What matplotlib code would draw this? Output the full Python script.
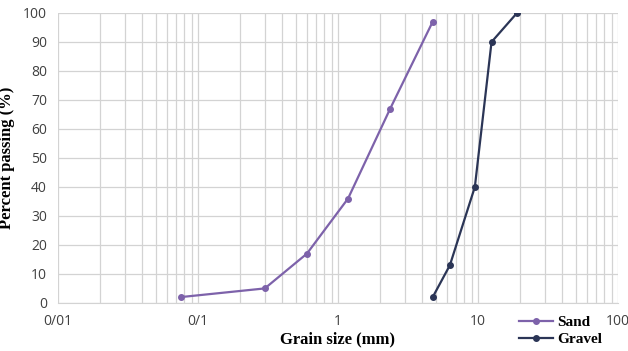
import matplotlib
matplotlib.use("Agg")
import matplotlib.pyplot as plt
from matplotlib.ticker import FixedLocator, LogLocator, NullFormatter

sand_size = [0.075, 0.3, 0.6, 1.18, 2.36, 4.75]
sand_pass = [2, 5, 17, 36, 67, 97]
gravel_size = [4.75, 6.3, 9.5, 12.5, 19]
gravel_pass = [2, 13, 40, 90, 100]

x_ticks = [0.01, 0.1, 1, 10, 100]
x_labels = ["0/01", "0/1", "1", "10", "100"]

sand_color = "#7d62aa"
gravel_color = "#2b3556"

fig = plt.figure(figsize=(6.28, 3.51), dpi=100)
ax = fig.add_axes([0.0924, 0.137, 0.8916, 0.826])

ax.plot(sand_size, sand_pass, color=sand_color, lw=1.6, marker="o", ms=4, label="Sand", zorder=3)
ax.plot(gravel_size, gravel_pass, color=gravel_color, lw=1.6, marker="o", ms=4, label="Gravel", zorder=3)

ax.set_xscale("log")
ax.set_xlim(0.01, 100)
ax.set_ylim(0, 100)
ax.xaxis.set_major_locator(FixedLocator(x_ticks))
ax.set_xticklabels(x_labels)
ax.xaxis.set_minor_locator(LogLocator(base=10, subs=range(2, 10)))
ax.xaxis.set_minor_formatter(NullFormatter())
ax.set_yticks(range(0, 101, 10))

ax.grid(True, which="both", color="#d3d3d3", lw=0.9)
ax.tick_params(which="both", length=0, labelsize=10, colors="#404040", pad=8)
for lab in ax.get_xticklabels() + ax.get_yticklabels():
    lab.set_family("Open Sans")
for name, sp in ax.spines.items():
    sp.set_visible(name == "bottom")
ax.spines["bottom"].set_color("#d3d3d3")

ax.set_xlabel("Grain size (mm)", family="Liberation Serif", weight="bold", fontsize=12, labelpad=2)
ax.set_ylabel("Percent passing (%)", family="Liberation Serif", weight="bold", fontsize=12, labelpad=6)

fig.legend(loc="center left", bbox_to_anchor=(0.815, 0.058), frameon=False,
           prop={"family": "Liberation Serif", "weight": "bold", "size": 11},
           handlelength=2.2, handletextpad=0.3, labelspacing=0.2, borderpad=0)

fig.savefig("out.png", dpi=100)
